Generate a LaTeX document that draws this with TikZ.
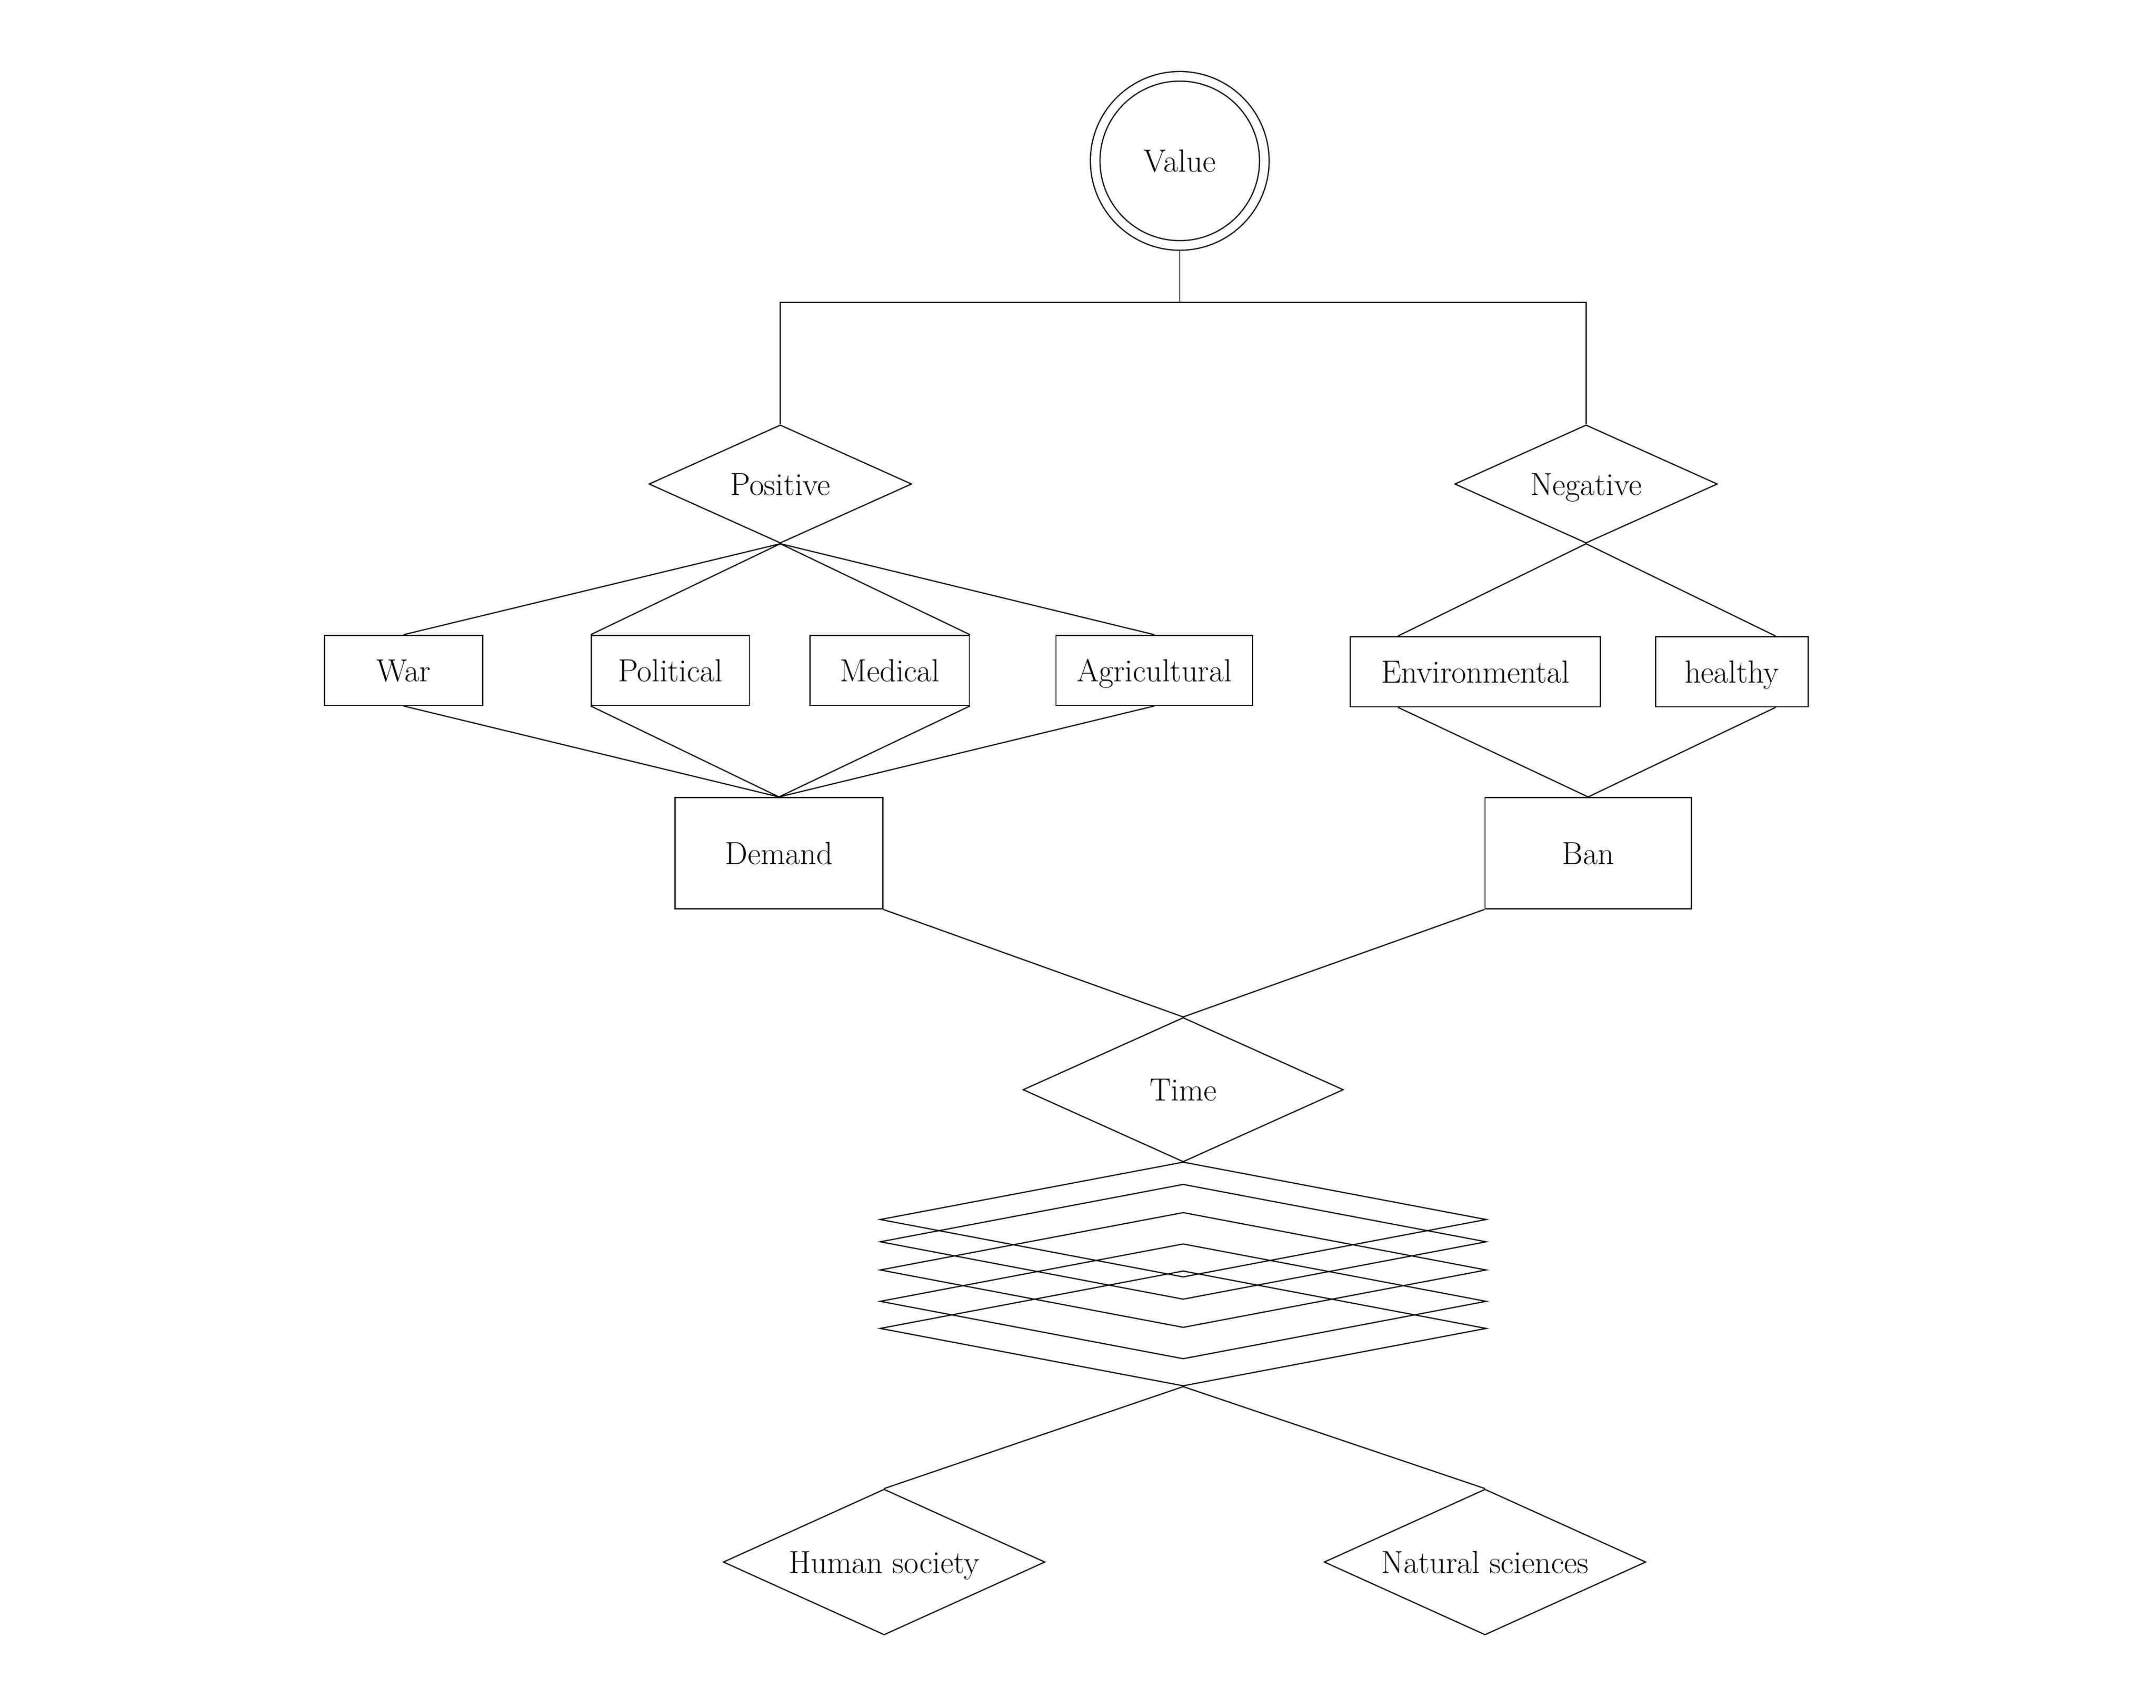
\documentclass[tikz,border=0pt]{standalone}
\usetikzlibrary{shapes.geometric,calc}
\newlength\pxu
\setlength\pxu{0.33284mm}
\begin{document}
\begin{tikzpicture}[x=0.33284mm,y=-0.33284mm, line width=0.8pt,
  every node/.style={font=\fontsize{22}{26}\selectfont, text height=15.2pt, text depth=0pt},
  box/.style={draw, rectangle, inner sep=0pt, minimum height=51\pxu},
  bigbox/.style={draw, rectangle, inner sep=0pt, minimum width=151\pxu, minimum height=81\pxu},
  rel/.style={draw, diamond, aspect=2.2, inner sep=0pt},
  layer/.style={draw, diamond, aspect=5, inner sep=0pt, minimum width=441\pxu, minimum height=83.8\pxu},
]
\useasboundingbox (0,0) rectangle (1568,1242);
\fill[white] (0,0) rectangle (1568,1242);

% top entity
\node[draw, circle, inner sep=0pt, minimum size=130\pxu] (value) at (858,117) {Value};
\draw (value.center) circle[radius=58];
\coordinate (hub) at (858,220);

% relationships
\node[rel, minimum width=191\pxu, minimum height=86\pxu] (pos) at (567.5,352) {Positive};
\node[rel, minimum width=191\pxu, minimum height=86\pxu] (neg) at (1153.5,352) {Negative};

% attribute boxes
\node[box, minimum width=115\pxu] (war) at (293.5,487.5) {War};
\node[box, minimum width=115\pxu] (pol) at (487.5,487.5) {Political};
\node[box, minimum width=116\pxu] (med) at (647,487.5) {Medical};
\node[box, minimum width=143\pxu] (agr) at (839.5,487.5) {Agricultural};
\node[box, minimum width=182\pxu] (env) at (1073,488.5) {Environmental};
\node[box, minimum width=111\pxu] (hea) at (1259.5,488.5) {healthy};

\node[bigbox] (dem) at (566.5,620.5) {Demand};
\node[bigbox, minimum width=150\pxu] (ban) at (1155,620.5) {Ban};

\node[rel, minimum width=233\pxu, minimum height=105\pxu] (time) at (860.5,792.5) {Time};

% stacked layers
\node[layer] (l1) at (860.5,886.9) {};
\node[layer] (l2) at (860.5,903.1) {};
\node[layer] (l3) at (860.5,923.6) {};
\node[layer] (l4) at (860.5,946.4) {};
\node[layer] (l5) at (860.5,966.1) {};

\node[rel, minimum width=234\pxu, minimum height=106\pxu] (hum) at (643,1136) {Human society};
\node[rel, minimum width=234\pxu, minimum height=106\pxu] (nat) at (1080,1136) {Natural sciences};

% connectors
\draw (value.south) -- (hub);
\draw (pos.north) |- (hub) -| (neg.north);

\draw (pos.south) -- (war.north);
\draw (pos.south) -- (pol.north west);
\draw (pos.south) -- (med.north east);
\draw (pos.south) -- (agr.north);

\draw (neg.south) -- ($(env.north west)!0.192!(env.north east)$);
\draw (neg.south) -- ($(hea.north west)!0.785!(hea.north east)$);

\draw (war.south) -- (dem.north);
\draw (pol.south west) -- (dem.north);
\draw (med.south east) -- (dem.north);
\draw (agr.south) -- (dem.north);

\draw ($(env.south west)!0.192!(env.south east)$) -- (ban.north);
\draw ($(hea.south west)!0.785!(hea.south east)$) -- (ban.north);

\draw (dem.south east) -- (time.north);
\draw (ban.south west) -- (time.north);

\draw (l5.south) -- (hum.north);
\draw (l5.south) -- (nat.north);
\end{tikzpicture}
\end{document}
